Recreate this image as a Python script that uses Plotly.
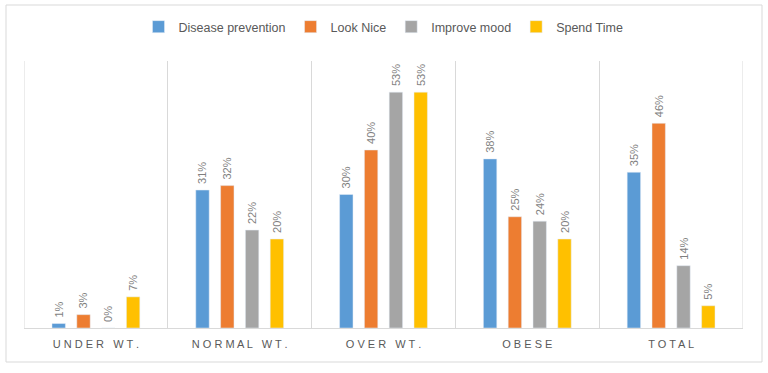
import plotly.graph_objects as go

categories = ["UNDER WT.", "NORMAL WT.", "OVER WT.", "OBESE", "TOTAL"]
series_names = ["Disease prevention", "Look Nice", "Improve mood", "Spend Time"]
disease_prevention = [1, 31, 30, 38, 35]
look_nice = [3, 32, 40, 25, 46]
improve_mood = [0, 22, 53, 24, 14]
spend_time = [7, 20, 53, 20, 5]
colors = ["#5B9BD5", "#ED7D31", "#A5A5A5", "#FFC000"]

def spaced(s):
    return " ".join(list(s))

tick_text = [spaced(c) for c in categories]

fig = go.Figure()
for name, vals, col in zip(series_names, [disease_prevention, look_nice, improve_mood, spend_time], colors):
    fig.add_trace(go.Bar(
        x=categories, y=vals, name=name, marker_color=col,
        text=["\u00a0" + f"{v}%" for v in vals], textposition="outside", textangle=-90,
        constraintext="none",
        textfont=dict(color="#7F7F7F", size=11, family="Liberation Sans"),
        cliponaxis=False,
    ))

W, H = 768, 373
ml, mr, mt, mb = 24, 25, 61, 45
pw, ph = W - ml - mr, H - mt - mb

def px_x(x):
    return (x - ml) / pw

def px_y(y):
    return (H - mb - y) / ph

n = len(categories)
shapes = [dict(type="rect", xref="paper", yref="paper",
               x0=px_x(6), x1=px_x(762), y0=px_y(362), y1=px_y(5),
               line=dict(color="#D9D9D9", width=1), fillcolor="rgba(0,0,0,0)", layer="below")]
for b in [-0.5, n - 0.5]:
    shapes.append(dict(type="line", xref="x", yref="paper", x0=b, x1=b, y0=0, y1=1,
                       line=dict(color="#D9D9D9", width=1), layer="below"))

fig.update_layout(
    width=W, height=H,
    margin=dict(l=ml, r=mr, t=mt, b=mb, autoexpand=False),
    paper_bgcolor="white", plot_bgcolor="white",
    barmode="group", bargap=0.31, bargroupgap=0.46,
    font=dict(family="Liberation Sans", color="#595959"),
    legend=dict(orientation="h", x=0.5, xanchor="center", y=1.0 + (mt - 27) / ph, yanchor="middle",
                font=dict(size=12.5, color="#595959"), itemwidth=30, traceorder="normal"),
    showlegend=True,
    xaxis=dict(
        type="category", tickmode="array", tickvals=categories, ticktext=tick_text,
        tickson="boundaries", showgrid=True, gridcolor="#D9D9D9", gridwidth=1,
        ticks="", showline=True, linecolor="#D9D9D9", linewidth=1,
        tickfont=dict(size=11, color="#595959"), ticklabelstandoff=6,
        range=[-0.5, n - 0.5],
    ),
    yaxis=dict(range=[0, 60], showgrid=False, showticklabels=False, zeroline=False, showline=False, ticks=""),
    shapes=shapes,
)

fig.write_html("out.html", config={"displayModeBar": False},
               post_script="document.body.style.margin='0px';")
